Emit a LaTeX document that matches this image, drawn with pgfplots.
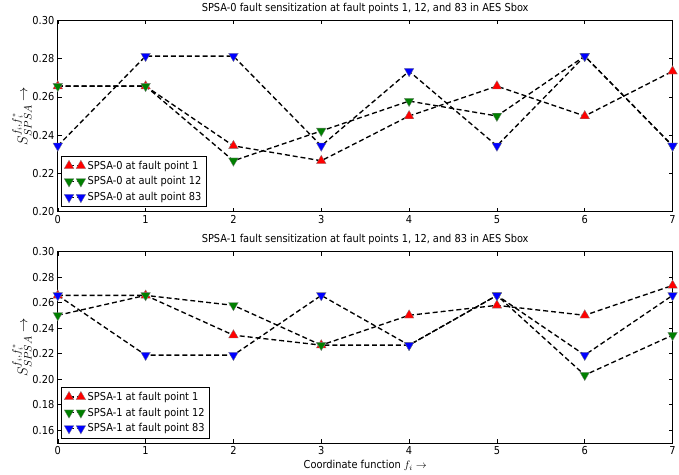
\documentclass[border=0pt]{standalone}
\usepackage{pgfplots}
\pgfplotsset{compat=1.18}
\usepackage{fontspec}
\setmainfont{DejaVu Sans Condensed}
\definecolor{mplgreen}{rgb}{0,0.5,0}
\pgfplotsset{
  every axis/.append style={
    scale only axis, width=617bp, height=192bp,
    xmin=0, xmax=7, xtick={0,...,7},
    tick align=inside, tick pos=both,
    major tick length=4bp,
    axis line style={line width=0.6pt},
    every tick/.style={black, line width=0.5pt},
    tick label style={font=\fontsize{11}{13}\selectfont},
    title style={font=\fontsize{11}{13}\selectfont, yshift=-3bp},
    label style={font=\fontsize{11}{13}\selectfont},
    yticklabel style={/pgf/number format/.cd, fixed, fixed zerofill, precision=2, assume math mode=true},
    xticklabel style={/pgf/number format/assume math mode=true},
    legend style={font=\fontsize{11}{13}\selectfont, draw=black, line width=0.5pt, fill=white, anchor=south west, cells={anchor=west}, inner sep=2.5bp, row sep=2bp},
    legend image code/.code={\draw[mark repeat=2,mark phase=1,#1] plot coordinates {(0cm,0cm) (0.21cm,0cm) (0.42cm,0cm)};},
    ylabel={$S^{f_i,f_i^*}_{SPSA}\rightarrow$},
    ylabel style={font=\fontsize{15}{17}\selectfont, yshift=-6bp},
  },
  up/.style={black, line width=1.35pt, dash pattern=on 5pt off 3pt, mark size=5.6pt, mark=triangle*,
    mark options={solid, fill=#1, draw=gray, line width=0.3pt}},
  dn/.style={black, line width=1.35pt, dash pattern=on 5pt off 3pt, mark size=5.6pt, mark=triangle*,
    mark options={solid, fill=#1, draw=gray, line width=0.3pt, rotate=180}},
}
\begin{document}
\begin{tikzpicture}
\begin{axis}[name=top,
  ymin=0.20, ymax=0.30, ytick={0.20,0.22,...,0.301},
  title={SPSA-0 fault sensitization at fault points 1, 12, and 83 in AES Sbox},
  legend style={at={(0.006,0.025)}},
]
\addplot[up=red] coordinates {(0,0.2656) (1,0.2656) (2,0.2344) (3,0.2266) (4,0.2500) (5,0.2656) (6,0.2500) (7,0.2734)};
\addlegendentry{SPSA-0 at fault point 1}
\addplot[dn=mplgreen] coordinates {(0,0.2656) (1,0.2656) (2,0.2266) (3,0.2422) (4,0.2578) (5,0.2500) (6,0.2813) (7,0.2344)};
\addlegendentry{SPSA-0 at ault point 12}
\addplot[dn=blue] coordinates {(0,0.2344) (1,0.2813) (2,0.2813) (3,0.2344) (4,0.2734) (5,0.2344) (6,0.2813) (7,0.2344)};
\addlegendentry{SPSA-0 at ault point 83}
\end{axis}
\begin{axis}[at={(top.south west)}, anchor=north west, yshift=-40bp,
  ymin=0.15, ymax=0.30, ytick={0.16,0.18,...,0.301},
  title={SPSA-1 fault sensitization at fault points 1, 12, and 83 in AES Sbox},
  xlabel={Coordinate function $f_i$ $\rightarrow$},
  xlabel style={yshift=1bp},
  legend style={at={(0.006,0.025)}},
]
\addplot[up=red] coordinates {(0,0.2656) (1,0.2656) (2,0.2344) (3,0.2266) (4,0.2500) (5,0.2578) (6,0.2500) (7,0.2734)};
\addlegendentry{SPSA-1 at fault point 1}
\addplot[dn=mplgreen] coordinates {(0,0.2500) (1,0.2656) (2,0.2578) (3,0.2266) (4,0.2266) (5,0.2656) (6,0.2031) (7,0.2344)};
\addlegendentry{SPSA-1 at fault point 12}
\addplot[dn=blue] coordinates {(0,0.2656) (1,0.2188) (2,0.2188) (3,0.2656) (4,0.2266) (5,0.2656) (6,0.2188) (7,0.2656)};
\addlegendentry{SPSA-1 at fault point 83}
\end{axis}
\path (top.south west) ++(-58bp,0bp);
\end{tikzpicture}
\end{document}
